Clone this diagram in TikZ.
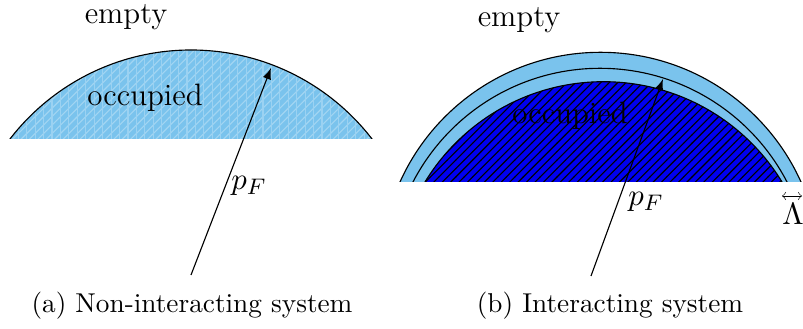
\documentclass[tikz,border=0pt]{standalone}
\usepackage{xcolor}
\usepackage{tikz}
\usetikzlibrary{arrows, patterns}
\definecolor{seablue}{RGB}{122, 195, 237}
\definecolor{deepblue}{RGB}{0, 0, 240}

\begin{document}
\begin{tikzpicture}[
        x=0.0125cm, y=0.0125cm,
        label/.style={font=\fontsize{11}{13}\selectfont, inner sep=0pt},
        caption/.style={font=\fontsize{9.7}{12}\selectfont, inner sep=0pt},
        arrow/.style={-latex, thin, black},
        shell/.style={draw=black, thin}
    ]
        \useasboundingbox (0,0) rectangle (803,329);

        % (a) Fermi sea without interaction
        \begin{scope}
            \clip (0,190) rectangle (400,329);
            \fill [seablue] (191,50.4) circle [radius=228.6];
            \fill [pattern=north east lines, pattern color=white!30!seablue] (191,50.4) circle [radius=228.6];
            \fill [pattern=vertical lines, pattern color=white!25!seablue] (191,50.4) circle [radius=228.6];
            \draw [shell] (191,50.4) circle [radius=228.6];
        \end{scope}

        % (b) Fermi sea with interaction
        \begin{scope}
            \clip (380,147) rectangle (803,329);
            \fill [seablue] (600.5,56.9) circle [radius=219.8];
            \draw [shell] (600.5,56.9) circle [radius=219.8];
            \draw [shell] (600,50.1) circle [radius=210.6];
            \fill [deepblue] (603.5,38.3) circle [radius=209];
            \fill [pattern=north east lines, pattern color=black] (603.5,38.3) circle [radius=209];
            \draw [shell] (603.5,38.3) circle [radius=209];
        \end{scope}

        % Labels
        \node (emptyA) [label] at (126,312) {empty};
        \node (occA) [label] at (145,231) {occupied};
        \node (pfA) [label] at (249,143) {$p_F$};
        \node (capA) [caption] at (192,23) {(a) Non-interacting system};

        \node (emptyB) [label] at (519,309) {empty};
        \node (occB) [label] at (570,213) {occupied};
        \node (pfB) [label] at (646,127) {$p_F$};
        \node (lam) [label] at (793,115) {$\Lambda$};
        \node (capB) [caption] at (610,23) {(b) Interacting system};

        % Fermi momentum arrows
        \coordinate (originA) at (191,54);
        \coordinate (edgeA) at (271,261);
        \coordinate (originB) at (591,53);
        \coordinate (edgeB) at (663,250);
        \coordinate (lamL) at (782,133);
        \coordinate (lamR) at (802,133);

        \draw [arrow] (originA) -- (edgeA);
        \draw [arrow] (originB) -- (edgeB);
        \draw [<->, very thin] (lamL) -- (lamR);

    \end{tikzpicture}
\end{document}
